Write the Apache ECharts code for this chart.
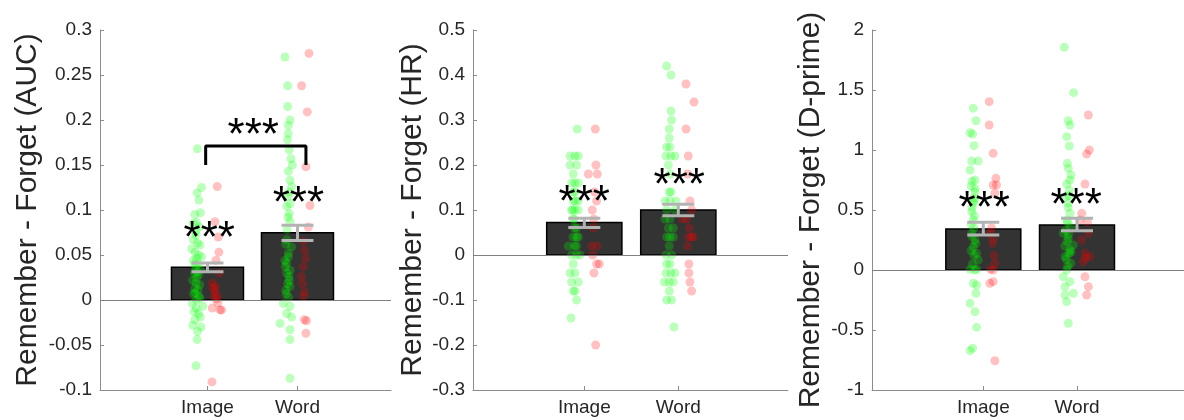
<!DOCTYPE html>
<html>
<head>
<meta charset="utf-8">
<title>Remember - Forget</title>
<script src="https://cdn.jsdelivr.net/npm/echarts@6/dist/echarts.min.js"></script>
<style>
html, body { margin: 0; padding: 0; background: #fff; }
#chart { width: 1184px; height: 420px; }
</style>
</head>
<body>
<div id="chart"></div>
<script>
// ---- data ----
const categories = ['Image', 'Word'];
const yTitles = ['Remember - Forget (AUC)', 'Remember - Forget (HR)', 'Remember - Forget (D-prime)'];

// panel 1: AUC
const aucMeans = [0.0365, 0.0748];
const aucErr = [[0.0315, 0.041], [0.066, 0.083]];
const aucGreen = [
  [0.887,0.168],[0.933,0.125],[0.884,0.119],[0.905,0.111],[0.922,0.097],[0.859,0.095],[0.880,0.086],
  [0.841,0.085],[0.910,0.081],[0.866,0.076],[0.873,0.072],[0.843,0.067],[0.890,0.063],[0.917,0.061],
  [0.825,0.057],[0.862,0.053],[0.900,0.050],[0.935,0.048],[0.880,0.046],[0.843,0.044],[0.898,0.040],
  [0.858,0.040],[0.870,0.037],[0.920,0.034],[0.888,0.031],[0.855,0.030],[0.905,0.028],[0.880,0.025],
  [0.835,0.022],[0.872,0.019],[0.915,0.017],[0.860,0.013],[0.895,0.011],[0.865,0.008],[0.845,0.007],
  [0.905,0.004],[0.915,0.002],[0.878,0.000],[0.830,-0.004],[0.950,-0.007],[0.875,-0.009],[0.850,-0.013],
  [0.900,-0.015],[0.920,-0.019],[0.860,-0.022],[0.838,-0.028],[0.928,-0.030],[0.890,-0.035],
  [0.885,-0.044],[0.872,-0.073],
  [1.861,0.270],[1.891,0.238],[1.891,0.215],[1.917,0.200],[1.898,0.194],[1.898,0.185],[1.890,0.178],
  [1.909,0.167],[1.928,0.157],[1.943,0.150],[1.898,0.143],[1.917,0.133],[1.935,0.126],[1.905,0.120],
  [1.898,0.115],[1.917,0.107],[1.880,0.104],[1.909,0.096],[1.895,0.092],[1.917,0.087],[1.885,0.078],
  [1.880,0.067],[1.870,0.062],[1.935,0.059],[1.898,0.052],[1.900,0.048],[1.861,0.044],[1.880,0.041],
  [1.865,0.037],[1.917,0.033],[1.880,0.030],[1.905,0.026],[1.909,0.022],[1.890,0.018],[1.917,0.015],
  [1.870,0.011],[1.875,0.007],[1.900,0.003],[1.843,-0.004],[1.917,-0.007],[1.880,-0.015],[1.935,-0.019],
  [1.806,-0.026],[1.917,-0.033],[1.917,-0.044],[1.917,-0.087]
];
const aucRed = [
  [1.109,0.126],[1.083,0.087],[1.120,0.070],[1.127,0.053],[1.094,0.044],[1.131,0.030],[1.053,0.019],
  [1.090,0.015],[1.060,0.013],[1.083,0.010],[1.110,0.005],[1.070,0.004],[1.100,0.001],[1.115,-0.003],
  [1.053,-0.009],[1.139,-0.011],[1.157,-0.011],[1.050,-0.091],
  [2.128,0.274],[2.046,0.238],[2.109,0.209],[2.094,0.148],[2.139,0.105],[2.120,0.081],[2.065,0.065],
  [2.080,0.055],[2.094,0.046],[2.065,0.037],[2.046,0.026],[2.057,0.018],[2.076,0.009],[2.065,0.004],
  [2.076,-0.022],[2.100,-0.023],[2.094,-0.037]
];
const aucStars = [[1.02, 0.078], [2.01, 0.117], [1.509, 0.192]];
const aucBracket = [[0.98, 0.150], [0.98, 0.171], [2.094, 0.171], [2.094, 0.150]];

// panel 2: HR
const hrMeans = [0.072, 0.100];
const hrErr = [[0.061, 0.0815], [0.087, 0.113]];
const hrGreen = [
  [0.925,0.28],[0.848,0.22],[0.901,0.22],[0.936,0.22],[0.848,0.20],[0.918,0.20],[0.883,0.18],
  [0.865,0.16],[0.901,0.16],[0.936,0.16],[0.883,0.14],[0.900,0.14],[0.883,0.12],[0.905,0.12],
  [0.936,0.12],[0.865,0.10],[0.875,0.10],[0.901,0.10],[0.936,0.10],[0.883,0.08],[0.890,0.08],
  [0.895,0.06],[0.918,0.06],[0.880,0.04],[0.918,0.04],[0.936,0.04],[0.830,0.02],[0.895,0.02],
  [0.918,0.02],[0.865,0.00],[0.918,0.00],[0.954,0.00],[0.883,-0.02],[0.848,-0.04],[0.901,-0.04],
  [0.865,-0.06],[0.936,-0.06],[0.883,-0.08],[0.901,-0.08],[0.918,-0.10],[0.858,-0.14],
  [1.876,0.42],[1.922,0.40],[1.922,0.32],[1.929,0.30],[1.904,0.28],[1.904,0.26],[1.876,0.24],
  [1.911,0.24],[1.869,0.22],[1.922,0.22],[1.965,0.22],[1.894,0.20],[1.911,0.18],[1.904,0.14],
  [1.922,0.14],[1.858,0.12],[1.911,0.12],[1.975,0.12],[1.876,0.10],[1.965,0.10],[1.858,0.08],
  [1.911,0.08],[1.894,0.06],[1.947,0.06],[1.876,0.04],[1.911,0.04],[1.947,0.04],[1.904,0.02],
  [1.869,0.00],[1.929,0.00],[1.876,-0.02],[1.911,-0.02],[1.869,-0.04],[1.922,-0.04],[1.965,-0.04],
  [1.851,-0.06],[1.904,-0.06],[1.947,-0.06],[1.904,-0.08],[1.876,-0.10],[1.929,-0.10],[1.954,-0.16]
];
const hrRed = [
  [1.117,0.28],[1.124,0.20],[1.043,0.18],[1.138,0.18],[1.110,0.14],[1.131,0.12],[1.085,0.10],
  [1.100,0.08],[1.096,0.06],[1.078,0.02],[1.138,0.02],[1.089,0.00],[1.131,-0.02],[1.160,-0.02],
  [1.103,-0.04],[1.121,-0.20],
  [2.082,0.38],[2.167,0.34],[2.082,0.28],[2.106,0.22],[2.099,0.18],[2.124,0.12],[2.142,0.10],
  [2.046,0.08],[2.089,0.08],[2.117,0.06],[2.106,0.04],[2.142,0.04],[2.160,0.04],[2.099,0.02],
  [2.113,-0.02],[2.113,-0.04],[2.124,-0.06],[2.142,-0.08]
];
const hrStars = [[1.00, 0.136], [2.01, 0.173]];

// panel 3: D-prime
const dpMeans = [0.342, 0.375];
const dpErr = [[0.292, 0.397], [0.328, 0.431]];
const dpGreen = [
  [0.893,1.347],[0.921,1.244],[0.858,1.144],[0.886,1.133],[0.900,1.036],[0.876,0.908],[0.946,0.908],
  [0.858,0.833],[0.911,0.750],[0.880,0.740],[0.870,0.700],[0.911,0.680],[0.911,0.650],[0.900,0.600],
  [0.905,0.580],[0.893,0.556],[0.880,0.520],[0.876,0.486],[0.905,0.450],[0.893,0.417],[0.870,0.380],
  [0.900,0.350],[0.876,0.306],[0.880,0.280],[0.911,0.250],[0.920,0.220],[0.893,0.194],[0.870,0.160],
  [0.928,0.139],[0.900,0.120],[0.946,0.083],[0.885,0.050],[0.858,0.006],[0.928,0.006],[0.910,0.000],
  [0.893,-0.111],[0.928,-0.125],[0.921,-0.194],[0.858,-0.278],[0.911,-0.347],[0.928,-0.478],
  [0.886,-0.653],[0.858,-0.672],
  [1.865,1.856],[1.964,1.478],[1.907,1.244],[1.925,1.208],[1.890,1.111],[1.918,1.033],[1.897,0.889],
  [1.907,0.847],[1.936,0.792],[1.925,0.750],[1.890,0.717],[1.918,0.667],[1.915,0.620],[1.883,0.611],
  [1.907,0.556],[1.905,0.520],[1.925,0.472],[1.890,0.417],[1.900,0.400],[1.932,0.361],[1.880,0.330],
  [1.854,0.306],[1.910,0.300],[1.907,0.264],[1.895,0.240],[1.961,0.208],[1.870,0.200],[1.925,0.167],
  [1.935,0.150],[1.915,0.140],[1.872,0.111],[1.885,0.090],[1.932,0.056],[1.900,0.030],[1.890,0.000],
  [1.854,-0.056],[1.925,-0.097],[1.872,-0.139],[1.961,-0.194],[1.872,-0.208],[1.890,-0.264],[1.907,-0.444]
];
const dpRed = [
  [1.063,1.403],[1.063,1.208],[1.105,0.972],[1.134,0.764],[1.105,0.708],[1.141,0.708],[1.123,0.640],
  [1.088,0.350],[1.070,0.306],[1.105,0.264],[1.100,0.220],[1.115,0.120],[1.123,0.056],[1.077,0.006],
  [1.105,0.000],[1.105,-0.097],[1.070,-0.111],[1.123,-0.756],
  [2.121,1.292],[2.132,1.000],[2.103,0.967],[2.085,0.717],[2.050,0.472],[2.032,0.417],[2.110,0.400],
  [2.121,0.306],[2.050,0.250],[2.085,0.139],[2.139,0.111],[2.090,0.100],[2.068,0.069],[2.085,-0.056],
  [2.121,-0.139],[2.103,-0.208]
];
const dpStars = [[1.01, 0.583], [1.99, 0.611]];

// y axis ranges / tick steps
const yMin = [-0.1, -0.3, -1];
const yMax = [0.3, 0.5, 2];
const yStep = [0.05, 0.1, 0.5];

// ---- layout ----
const FONT = '"Liberation Sans", Arial, Helvetica, sans-serif';
const grids = [
  { left: 100, top: 30, width: 291, height: 360 },
  { left: 473, top: 30, width: 315, height: 360 },
  { left: 872, top: 30, width: 312, height: 360 }
];
const xRange = [[-0.194, 3.039], [-0.184, 3.167], [-0.188, 3.142]];
const nameGaps = [57, 45, 46];

const panels = [
  { means: aucMeans, err: aucErr, green: aucGreen, red: aucRed, stars: aucStars, bracket: aucBracket },
  { means: hrMeans, err: hrErr, green: hrGreen, red: hrRed, stars: hrStars },
  { means: dpMeans, err: dpErr, green: dpGreen, red: dpRed, stars: dpStars }
];

const chart = echarts.init(document.getElementById('chart'));

function renderBar(params, api) {
  const x = api.value(0), v = api.value(1);
  const p0 = api.coord([x - 0.4, v]);
  const p1 = api.coord([x + 0.4, 0]);
  return {
    type: 'rect',
    shape: { x: p0[0], y: p0[1], width: p1[0] - p0[0], height: p1[1] - p0[1] },
    style: { fill: '#333333', stroke: '#000', lineWidth: 1.5 }
  };
}

function renderErr(params, api) {
  const x = api.value(0);
  const lo = api.coord([x, api.value(1)]);
  const hi = api.coord([x, api.value(2)]);
  const cap = 16;
  const st = { stroke: '#b3b3b3', lineWidth: 3 };
  return {
    type: 'group',
    children: [
      { type: 'line', shape: { x1: lo[0], y1: lo[1], x2: hi[0], y2: hi[1] }, style: st },
      { type: 'line', shape: { x1: lo[0] - cap, y1: lo[1], x2: lo[0] + cap, y2: lo[1] }, style: st },
      { type: 'line', shape: { x1: hi[0] - cap, y1: hi[1], x2: hi[0] + cap, y2: hi[1] }, style: st }
    ]
  };
}

function renderStars(params, api) {
  const p = api.coord([api.value(0), api.value(1)]);
  return {
    type: 'text',
    style: {
      text: '***', x: p[0], y: p[1] + 10, fill: '#000',
      font: '44px ' + FONT, align: 'center', verticalAlign: 'middle'
    }
  };
}

const xAxis = [], yAxis = [], series = [];
panels.forEach((pn, i) => {
  xAxis.push({
    gridIndex: i, type: 'value', min: xRange[i][0], max: xRange[i][1],
    axisLine: { onZero: false, lineStyle: { color: '#8c8c8c', width: 1 } },
    axisTick: { inside: true, length: 4, customValues: [1, 2], lineStyle: { color: '#8c8c8c' } },
    axisLabel: {
      customValues: [1, 2], formatter: v => categories[Math.round(v) - 1],
      color: '#262626', fontSize: 19, fontFamily: FONT, margin: 8
    },
    splitLine: { show: false }
  });
  yAxis.push({
    gridIndex: i, type: 'value', min: yMin[i], max: yMax[i], interval: yStep[i],
    name: yTitles[i], nameLocation: 'middle', nameGap: nameGaps[i],
    nameTextStyle: { color: '#262626', fontSize: 30, fontFamily: FONT },
    axisLine: { show: true, onZero: false, lineStyle: { color: '#8c8c8c', width: 1 } },
    axisTick: { show: true, inside: true, length: 4, lineStyle: { color: '#8c8c8c' } },
    axisLabel: { color: '#262626', fontSize: 19, fontFamily: FONT, margin: 8 },
    splitLine: { show: false }
  });
  series.push({
    type: 'custom', xAxisIndex: i, yAxisIndex: i, z: 2,
    renderItem: renderBar,
    data: pn.means.map((m, k) => [k + 1, m]),
    markLine: {
      silent: true, symbol: ['none', 'none'], label: { show: false },
      lineStyle: { color: '#808080', width: 1, type: 'solid' },
      data: [{ yAxis: 0 }]
    }
  });
  series.push({
    type: 'scatter', xAxisIndex: i, yAxisIndex: i, z: 3, symbolSize: 9,
    itemStyle: { color: 'rgba(0,255,0,0.32)' }, data: pn.green
  });
  series.push({
    type: 'scatter', xAxisIndex: i, yAxisIndex: i, z: 3, symbolSize: 9,
    itemStyle: { color: 'rgba(255,0,0,0.3)' }, data: pn.red
  });
  series.push({
    type: 'custom', xAxisIndex: i, yAxisIndex: i, z: 4,
    renderItem: renderErr,
    data: pn.err.map((e, k) => [k + 1, e[0], e[1]])
  });
  if (pn.bracket) {
    series.push({
      type: 'line', xAxisIndex: i, yAxisIndex: i, z: 5, symbol: 'none',
      lineStyle: { color: '#000', width: 3 }, data: pn.bracket
    });
  }
  series.push({
    type: 'custom', xAxisIndex: i, yAxisIndex: i, z: 6,
    renderItem: renderStars, data: pn.stars
  });
});

chart.setOption({
  animation: false,
  grid: grids,
  xAxis: xAxis,
  yAxis: yAxis,
  series: series
});
</script>
</body>
</html>
